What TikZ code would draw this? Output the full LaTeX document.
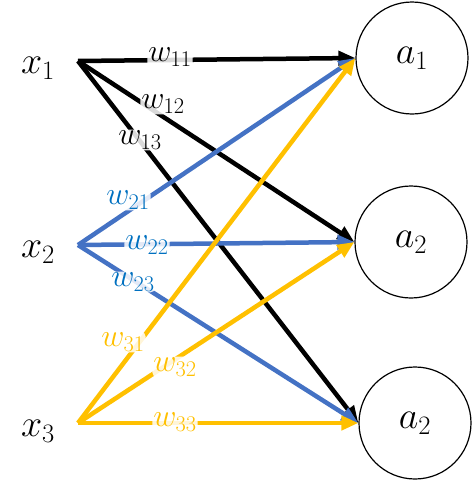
\RequirePackage{fix-cm}
\documentclass[tikz,border=0pt]{standalone}
\usetikzlibrary{arrows.meta}
\definecolor{WeightBlue}{HTML}{4472C4}
\definecolor{WeightBlueText}{HTML}{0070C0}
\definecolor{WeightGold}{HTML}{FFC000}
\tikzset{
  black link/.style={-{Triangle[length=17pt,width=14pt]}, draw=black, line width=4.5pt},
  blue link/.style={-{Triangle[length=17pt,width=14pt]}, draw=WeightBlue, line width=4.5pt},
  gold link/.style={-{Triangle[length=17pt,width=14pt]}, draw=WeightGold, line width=4.5pt},
  input label/.style={font=\fontsize{38}{40}\selectfont, inner sep=0pt},
  neuron/.style={circle, draw=black, line width=1.2pt, minimum size=112pt,
    inner sep=0pt, font=\fontsize{38}{40}\selectfont},
  weight/.style={font=\fontsize{32}{34}\selectfont, inner sep=1pt,
    fill=white, fill opacity=0.85, text opacity=1, rounded corners=5pt},
}

\begin{document}
\begin{tikzpicture}[x=1pt,y=-1pt]
  \useasboundingbox (0,0) rectangle (473,482);

  % Inputs and their line origins.
  \node[input label] (x1) at (38,68) {$x_1$};
  \node[input label] (x2) at (38,252) {$x_2$};
  \node[input label] (x3) at (38,431) {$x_3$};
  \coordinate (s1) at (78,61);
  \coordinate (s2) at (78,245);
  \coordinate (s3) at (78,423);

  % Output neurons.
  \node[neuron] (a1) at (412,58) {$a_1$};
  \node[neuron] (a2) at (411,242) {$a_2$};
  \node[neuron] (a3) at (415,423) {$a_2$};

  % Weighted links.
  \draw[black link] (s1) -- (a1.west);
  \draw[black link] (s1) -- (a2.west);
  \draw[black link] (s1) -- (a3.west);
  \draw[blue link] (s2) -- (a1.west);
  \draw[blue link] (s2) -- (a2.west);
  \draw[blue link] (s2) -- (a3.west);
  \draw[gold link] (s3) -- (a1.west);
  \draw[gold link] (s3) -- (a2.west);
  \draw[gold link] (s3) -- (a3.west);

  % Weight labels.
  \node[weight, text=black] (w11) at (170,57) {$w_{11}$};
  \node[weight, text=black] (w12) at (163,104) {$w_{12}$};
  \node[weight, text=black] (w13) at (140,140) {$w_{13}$};
  \node[weight, text=WeightBlueText] (w21) at (128,200) {$w_{21}$};
  \node[weight, text=WeightBlueText] (w22) at (147,245) {$w_{22}$};
  \node[weight, text=WeightBlueText] (w23) at (133,282) {$w_{23}$};
  \node[weight, text=WeightGold] (w31) at (123,342) {$w_{31}$};
  \node[weight, text=WeightGold] (w32) at (175,367) {$w_{32}$};
  \node[weight, text=WeightGold] (w33) at (175,422) {$w_{33}$};
\end{tikzpicture}
\end{document}
